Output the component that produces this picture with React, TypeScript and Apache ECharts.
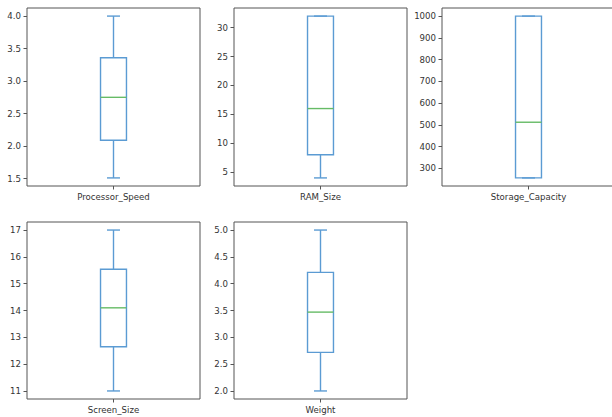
import React, { useEffect, useRef } from "react";
import * as echarts from "echarts";

const categories = ["Processor_Speed", "RAM_Size", "Storage_Capacity", "Screen_Size", "Weight"];
// [min whisker, q1, median, q3, max whisker]
const processorSpeed = [1.51, 2.09, 2.75, 3.36, 4.0];
const ramSize = [4, 8, 16, 32, 32];
const storageCapacity = [256, 256, 512, 1000, 1000];
const screenSize = [11.0, 12.65, 14.1, 15.54, 17.0];
const weight = [2.0, 2.72, 3.47, 4.21, 5.0];
const stats = [processorSpeed, ramSize, storageCapacity, screenSize, weight];

const ticksProcessor = [1.5, 2.0, 2.5, 3.0, 3.5, 4.0];
const ticksRam = [5, 10, 15, 20, 25, 30];
const ticksStorage = [300, 400, 500, 600, 700, 800, 900, 1000];
const ticksScreen = [11, 12, 13, 14, 15, 16, 17];
const ticksWeight = [2.0, 2.5, 3.0, 3.5, 4.0, 4.5, 5.0];
const tickLists = [ticksProcessor, ticksRam, ticksStorage, ticksScreen, ticksWeight];
const decimals = [1, 0, 0, 0, 1];

const gridBoxes = [
  { left: 27, top: 8, width: 173, height: 178 },
  { left: 234, top: 8, width: 173, height: 178 },
  { left: 442, top: 8, width: 173, height: 178 },
  { left: 27, top: 222, width: 173, height: 177 },
  { left: 234, top: 222, width: 173, height: 177 },
];

const boxColor = "#5b9bd3";
const medianColor = "#66bb66";
const frameColor = "#555";
const textColor = "#333";
const fontFamily = "DejaVu Sans";
const fontSize = 8.6;

export default function App() {
  const ref = useRef<HTMLDivElement>(null);
  useEffect(() => {
    if (!ref.current) return;
    const chart = echarts.init(ref.current, null, { renderer: "svg" });
    const grids: any[] = [];
    const xAxes: any[] = [];
    const yAxes: any[] = [];
    const series: any[] = [];
    stats.forEach((s, i) => {
      const lo = s[0];
      const hi = s[4];
      const pad = (hi - lo) * 0.05;
      grids.push({
        ...gridBoxes[i],
        show: true,
        borderColor: frameColor,
        borderWidth: 1,
        backgroundColor: "#fff",
        containLabel: false,
      });
      xAxes.push({
        type: "category",
        gridIndex: i,
        data: [categories[i]],
        axisLine: { show: false },
        axisTick: { show: true, alignWithLabel: true, length: 3.5, lineStyle: { color: frameColor } },
        axisLabel: { color: textColor, fontFamily, fontSize, margin: 6 },
        splitLine: { show: false },
      });
      yAxes.push({
        type: "value",
        gridIndex: i,
        min: lo - pad,
        max: hi + pad,
        axisLine: { show: false },
        splitLine: { show: false },
        axisTick: {
          show: true,
          length: 3.5,
          lineStyle: { color: frameColor },
          customValues: tickLists[i],
        },
        axisLabel: {
          color: textColor,
          fontFamily,
          fontSize,
          margin: 6,
          customValues: tickLists[i],
          formatter: (v: number) => v.toFixed(decimals[i]),
        },
      });
      series.push({
        type: "custom",
        xAxisIndex: i,
        yAxisIndex: i,
        data: [[0, ...s]],
        encode: { x: 0, y: [1, 2, 3, 4, 5] },
        renderItem: (params: any, api: any) => {
          const x = api.value(0);
          const pMin = api.coord([x, api.value(1)]);
          const pQ1 = api.coord([x, api.value(2)]);
          const pMed = api.coord([x, api.value(3)]);
          const pQ3 = api.coord([x, api.value(4)]);
          const pMax = api.coord([x, api.value(5)]);
          const band = api.size([1, 0])[0];
          const bw = band * 0.15;
          const cw = bw / 2;
          const cx = pMed[0];
          const lineStyle = { stroke: boxColor, lineWidth: 1.4, fill: null };
          return {
            type: "group",
            children: [
              { type: "line", shape: { x1: cx, y1: pQ1[1], x2: cx, y2: pMin[1] }, style: lineStyle },
              { type: "line", shape: { x1: cx, y1: pQ3[1], x2: cx, y2: pMax[1] }, style: lineStyle },
              { type: "line", shape: { x1: cx - cw / 2, y1: pMin[1], x2: cx + cw / 2, y2: pMin[1] }, style: lineStyle },
              { type: "line", shape: { x1: cx - cw / 2, y1: pMax[1], x2: cx + cw / 2, y2: pMax[1] }, style: lineStyle },
              {
                type: "rect",
                shape: { x: cx - bw / 2, y: pQ3[1], width: bw, height: pQ1[1] - pQ3[1] },
                style: { stroke: boxColor, lineWidth: 1.4, fill: "none" },
              },
              { type: "line", shape: { x1: cx - bw / 2, y1: pMed[1], x2: cx + bw / 2, y2: pMed[1] }, style: { stroke: medianColor, lineWidth: 1.4 } },
            ],
          };
        },
      });
    });
    chart.setOption({
      animation: false,
      backgroundColor: "#fff",
      grid: grids,
      xAxis: xAxes,
      yAxis: yAxes,
      series,
    });
    return () => chart.dispose();
  }, []);
  return (
    <div style={{ position: "absolute", left: 0, top: 0, width: 612, height: 417, overflow: "hidden" }}>
      <div ref={ref} style={{ position: "absolute", left: 0, top: 0, width: 640, height: 417 }} />
    </div>
  );
}
